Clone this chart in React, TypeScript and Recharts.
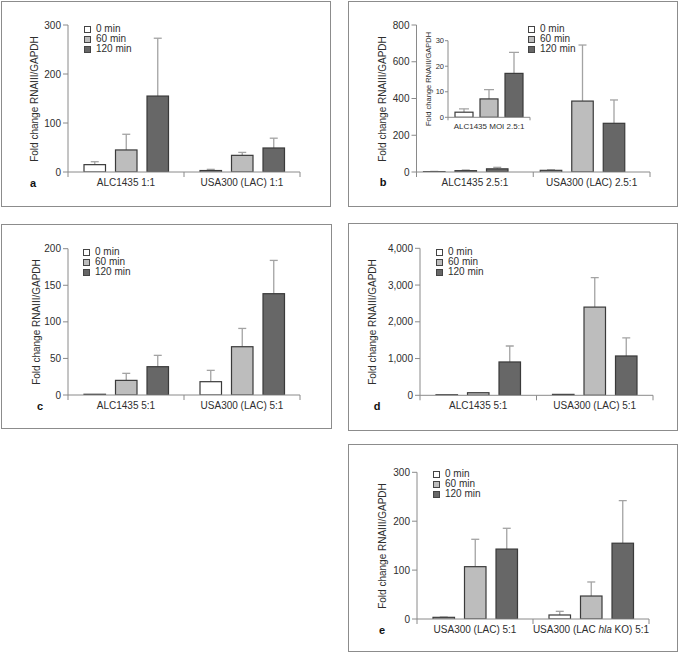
import React from 'react';
import { BarChart, Bar, XAxis, YAxis } from 'recharts';

// ---------- data ----------
const TIME_LABELS = ['0 min', '60 min', '120 min'];

const CAT_A = ['ALC1435 1:1', 'USA300 (LAC) 1:1'];
const A_0 = [15, 3];
const A_0_ERR = [6, 2.4];
const A_60 = [45, 34];
const A_60_ERR = [32, 6];
const A_120 = [155, 49];
const A_120_ERR = [118, 20];

const CAT_B = ['ALC1435 2.5:1', 'USA300 (LAC) 2.5:1'];
const B_0 = [2, 9];
const B_0_ERR = [1.3, 3];
const B_60 = [7.2, 386];
const B_60_ERR = [3.6, 305];
const B_120 = [17.2, 265];
const B_120_ERR = [8.2, 127];

const CAT_INSET = ['ALC1435 MOI 2.5:1'];
const IN_0 = [2];
const IN_0_ERR = [1.3];
const IN_60 = [7.2];
const IN_60_ERR = [3.6];
const IN_120 = [17.2];
const IN_120_ERR = [8.2];

const CAT_C = ['ALC1435 5:1', 'USA300 (LAC) 5:1'];
const C_0 = [1, 18.2];
const C_0_ERR = [0, 15.5];
const C_60 = [20, 66];
const C_60_ERR = [9.6, 25];
const C_120 = [38.7, 138.5];
const C_120_ERR = [15.5, 45.5];

const CAT_D = ['ALC1435 5:1', 'USA300 (LAC) 5:1'];
const D_0 = [15, 25];
const D_0_ERR = [0, 0];
const D_60 = [70, 2400];
const D_60_ERR = [0, 800];
const D_120 = [907, 1070];
const D_120_ERR = [435, 490];

const CAT_E = ['USA300 (LAC) 5:1', 'USA300 (LAC hla KO) 5:1'];
const E_0 = [3.4, 8.2];
const E_0_ERR = [0.6, 7.5];
const E_60 = [107, 47];
const E_60_ERR = [56, 28.7];
const E_120 = [143, 155];
const E_120_ERR = [42.5, 87];

const TICKS_A = [0, 100, 200, 300];
const TICKS_B = [0, 200, 400, 600, 800];
const TICKS_INSET = [0, 10, 20, 30];
const TICKS_C = [0, 50, 100, 150, 200];
const TICKS_D = [0, 1000, 2000, 3000, 4000];
const TICKS_E = [0, 100, 200, 300];

const Y_LABEL = 'Fold change RNAIII/GAPDH';

// ---------- style ----------
const FONT = '"Liberation Sans", Arial, sans-serif';
const FILLS = ['#ffffff', '#bdbdbd', '#676767'];
const STROKE = '#3a3a3a';
const ERR = '#a3a3a3';
const AXIS = '#8a8a8a';
const TEXT = '#2e2e2e';
const BORDER = '#8c8c8c';

const makeRows = (cats: string[], v0: number[], e0: number[], v60: number[], e60: number[], v120: number[], e120: number[]) =>
  cats.map((cat, i) => ({ cat, v0: v0[i], e0: e0[i], v60: v60[i], e60: e60[i], v120: v120[i], e120: e120[i] }));

const ROWS_A = makeRows(CAT_A, A_0, A_0_ERR, A_60, A_60_ERR, A_120, A_120_ERR);
const ROWS_B = makeRows(CAT_B, B_0, B_0_ERR, B_60, B_60_ERR, B_120, B_120_ERR);
const ROWS_IN = makeRows(CAT_INSET, IN_0, IN_0_ERR, IN_60, IN_60_ERR, IN_120, IN_120_ERR);
const ROWS_C = makeRows(CAT_C, C_0, C_0_ERR, C_60, C_60_ERR, C_120, C_120_ERR);
const ROWS_D = makeRows(CAT_D, D_0, D_0_ERR, D_60, D_60_ERR, D_120, D_120_ERR);
const ROWS_E = makeRows(CAT_E, E_0, E_0_ERR, E_60, E_60_ERR, E_120, E_120_ERR);

const SERIES = [
  { v: 'v0', e: 'e0', fill: FILLS[0] },
  { v: 'v60', e: 'e60', fill: FILLS[1] },
  { v: 'v120', e: 'e120', fill: FILLS[2] },
];

const barShape = (fill: string, vKey: string, eKey: string, cap: number) => (p: any) => {
  const { x, y, width, height, payload } = p;
  const v = payload[vKey];
  const e = payload[eKey];
  const cx = x + width / 2;
  let whisker = null;
  if (v > 0 && height > 0 && e > 0) {
    const top = y - (e * height) / v;
    whisker = (
      <g stroke={ERR} strokeWidth={1.3}>
        <line x1={cx} x2={cx} y1={y} y2={top} />
        <line x1={cx - cap} x2={cx + cap} y1={top} y2={top} />
      </g>
    );
  }
  return (
    <g>
      {whisker}
      <rect x={x} y={y} width={width} height={Math.max(height, 0.5)} fill={fill} stroke={STROKE} strokeWidth={1.2} />
    </g>
  );
};

const CatTick = (p: any) => {
  const { x, y, payload, index, band, font, tickLen, dy } = p;
  const label = String(payload.value);
  const parts = label.split('hla');
  return (
    <g>
      {index === 0 && <line x1={x - band / 2} x2={x - band / 2} y1={y} y2={y + tickLen} stroke={AXIS} />}
      <line x1={x + band / 2} x2={x + band / 2} y1={y} y2={y + tickLen} stroke={AXIS} />
      <text x={x} y={y + dy} textAnchor="middle" fontSize={font} fill={TEXT} fontFamily={FONT}>
        {parts.length > 1 ? (
          <>
            {parts[0]}
            <tspan fontStyle="italic">hla</tspan>
            {parts[1]}
          </>
        ) : (
          label
        )}
      </text>
    </g>
  );
};

const fmtComma = (v: number) => v.toLocaleString('en-US');

const BarPanel = (props: any) => {
  const { cx, cy, cw, ch, plot, data, domain, ticks, fmt, barSize, barGap, cap, font, tickLen, barPad, labelDy } = props;
  const YW = props.yw ?? 30;
  const tickMargin = props.tickMargin ?? 2;
  const XH = 20;
  const margin = {
    top: plot.T - cy,
    left: plot.L - cx - YW,
    right: cx + cw - plot.R,
    bottom: cy + ch - plot.B - XH,
  };
  const band = (plot.R - plot.L) / data.length;
  const barAxis = barPad ? 'bars' : 0;
  return (
    <div style={{ position: 'absolute', left: cx, top: cy }}>
      <BarChart width={cw} height={ch} data={data} margin={margin} barGap={barGap}>
        <XAxis
          dataKey="cat"
          type="category"
          interval={0}
          tickLine={false}
          tickSize={0}
          tickMargin={0}
          height={XH}
          axisLine={{ stroke: AXIS }}
          tick={<CatTick band={band} font={props.catFont ?? font} tickLen={tickLen} dy={labelDy} />}
        />
        {barPad && <XAxis xAxisId="bars" dataKey="cat" type="category" hide padding={barPad} />}
        <YAxis
          type="number"
          domain={domain}
          ticks={ticks}
          interval={0}
          width={YW}
          tickSize={tickLen}
          tickMargin={tickMargin}
          tickFormatter={fmt}
          axisLine={{ stroke: AXIS }}
          tickLine={{ stroke: AXIS }}
          tick={{ fontSize: font, fill: TEXT, fontFamily: FONT }}
          allowDataOverflow
        />
        {SERIES.map((s) => (
          <Bar
            key={s.v}
            xAxisId={barAxis}
            dataKey={s.v}
            barSize={barSize}
            fill={s.fill}
            isAnimationActive={false}
            shape={barShape(s.fill, s.v, s.e, cap)}
          />
        ))}
      </BarChart>
    </div>
  );
};

const Box = ({ x, y, w, h }: any) => (
  <div
    style={{
      position: 'absolute',
      left: x,
      top: y,
      width: w,
      height: h,
      border: `1.5px solid ${BORDER}`,
      boxSizing: 'border-box',
    }}
  />
);

const YLabel = ({ x, y, font = 10 }: any) => (
  <div
    style={{
      position: 'absolute',
      left: x - 100,
      top: y - 6,
      width: 200,
      height: 12,
      lineHeight: '12px',
      fontSize: font,
      textAlign: 'center',
      transform: 'rotate(-90deg)',
      color: TEXT,
      whiteSpace: 'nowrap',
    }}
  >
    {Y_LABEL}
  </div>
);

const LegendBlock = ({ x, y }: any) => (
  <>
    {TIME_LABELS.map((t, i) => (
      <React.Fragment key={t}>
        <div
          style={{
            position: 'absolute',
            left: x,
            top: y + i * 10 - 3.5,
            width: 7,
            height: 7,
            border: '1px solid #444',
            background: FILLS[i],
            boxSizing: 'border-box',
          }}
        />
        <div
          style={{
            position: 'absolute',
            left: x + 12,
            top: y + i * 10 - 6,
            height: 12,
            lineHeight: '12px',
            fontSize: 10,
            color: TEXT,
            whiteSpace: 'nowrap',
          }}
        >
          {t}
        </div>
      </React.Fragment>
    ))}
  </>
);

const Letter = ({ x, y, t }: any) => (
  <div
    style={{
      position: 'absolute',
      left: x - 6,
      top: y - 7,
      width: 12,
      textAlign: 'center',
      lineHeight: '14px',
      fontSize: 11,
      fontWeight: 'bold',
      color: '#111',
    }}
  >
    {t}
  </div>
);

const MAIN = { barSize: 21.5, barGap: 10, cap: 4, font: 10, tickLen: 5, labelDy: 14 };

export default function App() {
  return (
    <div style={{ position: 'absolute', left: 0, top: 0, width: 680, height: 655, background: '#fff', fontFamily: FONT }}>
      {/* a */}
      <Box x={1} y={1} w={330} h={206} />
      <BarPanel cx={1} cy={1} cw={330} ch={206} plot={{ L: 68, T: 25, R: 300, B: 172 }} data={ROWS_A} domain={[0, 300]} ticks={TICKS_A} {...MAIN} />
      <YLabel x={35} y={98.5} />
      <LegendBlock x={84} y={29} />
      <Letter x={33} y={183} t="a" />

      {/* b */}
      <Box x={348} y={1} w={330} h={206} />
      <BarPanel cx={348} cy={1} cw={330} ch={206} plot={{ L: 416.5, T: 25, R: 650, B: 172 }} data={ROWS_B} domain={[0, 800]} ticks={TICKS_B} barPad={{ left: -9, right: 9 }} {...MAIN} />
      <YLabel x={383} y={98.5} />
      <LegendBlock x={528} y={29} />
      <Letter x={383} y={182} t="b" />
      {/* inset */}
      <BarPanel cx={400} cy={30} cw={140} ch={110} yw={18} tickMargin={1} plot={{ L: 448, T: 40.7, R: 530, B: 117.3 }} data={ROWS_IN} domain={[0, 30]} ticks={TICKS_INSET} barSize={18} barGap={7} cap={5} font={7.5} catFont={8} tickLen={3} labelDy={11.5} />
      <YLabel x={429} y={79} font={7.5} />

      {/* c */}
      <Box x={1} y={224} w={331} h={205} />
      <BarPanel cx={1} cy={224} cw={331} ch={205} plot={{ L: 68, T: 248.7, R: 300, B: 395 }} data={ROWS_C} domain={[0, 200]} ticks={TICKS_C} {...MAIN} />
      <YLabel x={36.5} y={322} />
      <LegendBlock x={83} y={252.3} />
      <Letter x={40} y={406} t="c" />

      {/* d */}
      <Box x={348} y={223} w={330} h={208} />
      <BarPanel cx={348} cy={223} cw={330} ch={208} yw={40} plot={{ L: 420, T: 248.3, R: 653, B: 395.3 }} data={ROWS_D} domain={[0, 4000]} ticks={TICKS_D} fmt={fmtComma} {...MAIN} />
      <YLabel x={373} y={322} />
      <LegendBlock x={436} y={252.3} />
      <Letter x={377} y={406} t="d" />

      {/* e */}
      <Box x={348} y={444} w={330} h={208} />
      <BarPanel cx={348} cy={444} cw={330} ch={208} plot={{ L: 417, T: 472.3, R: 649, B: 619 }} data={ROWS_E} domain={[0, 300]} ticks={TICKS_E} {...MAIN} />
      <YLabel x={383} y={545.6} />
      <LegendBlock x={433} y={474} />
      <Letter x={382} y={630} t="e" />
    </div>
  );
}
